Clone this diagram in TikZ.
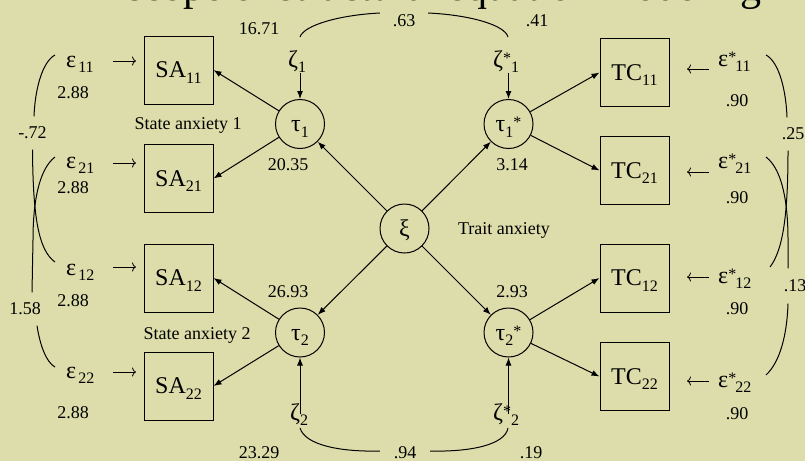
\documentclass[tikz,border=0pt]{standalone}
\usepackage{fontspec}
\setmainfont{Liberation Serif}
\usetikzlibrary{arrows.meta}
\definecolor{slidebg}{RGB}{220,221,170}
% lowered and raised indices in running text
\newcommand{\lowidx}[1]{\raisebox{-5.5pt}{\fontsize{16}{16}\selectfont #1}}
\newcommand{\highidx}[1]{\raisebox{4pt}{\fontsize{16}{16}\selectfont #1}}
\tikzset{
  bigtext/.style={font=\fontsize{24}{26}\selectfont, inner sep=0pt},
  smalltext/.style={font=\fontsize{18}{20}\selectfont, inner sep=0pt},
  manifest/.style={draw, line width=1pt, minimum width=69pt, minimum height=68pt,
    inner sep=0pt, text height=15pt, text depth=0pt, font=\fontsize{24}{26}\selectfont},
  latent/.style={draw, circle, line width=1pt, minimum size=49pt, inner sep=0pt,
    text height=15pt, text depth=0pt, font=\fontsize{24}{26}\selectfont},
  load/.style={line width=1pt, -{Latex[length=8pt,width=6pt]}},
  errarrow/.style={line width=0.8pt, -{To[length=4pt,width=9pt]}},
  covline/.style={line width=1pt},
}
\begin{document}
\begin{tikzpicture}[x=1pt,y=-1pt]
\fill[slidebg] (0,0) rectangle (805,461);
\useasboundingbox (0,0) rectangle (805,461);

% slide heading, cut by the top edge
\begin{scope}
  \clip (0,0) rectangle (805,461);
  \node[anchor=base west, inner sep=0pt, font=\fontsize{42}{44}\selectfont] (title) at (127,0)
    {scope of structural equation modeling};
\end{scope}

% observed indicators
\node[manifest] (sa11) at (178.5,70)  {SA\lowidx{11}};
\node[manifest] (sa21) at (178.5,178.5) {SA\lowidx{21}};
\node[manifest] (sa12) at (178.5,278) {SA\lowidx{12}};
\node[manifest] (sa22) at (178.5,386) {SA\lowidx{22}};
\node[manifest] (tc11) at (634.5,72.5) {TC\lowidx{11}};
\node[manifest] (tc21) at (634.5,170.5) {TC\lowidx{21}};
\node[manifest] (tc12) at (634.5,278) {TC\lowidx{12}};
\node[manifest] (tc22) at (634.5,376.5) {TC\lowidx{22}};

% latent variables
\node[latent] (t1)  at (300,124)     {τ\lowidx{1}};
\node[latent] (ts1) at (508.5,124)   {τ\lowidx{1}\highidx{*}};
\node[latent] (xi)  at (404.5,228.5) {ξ};
\node[latent] (t2)  at (300,332.5)   {τ\lowidx{2}};
\node[latent] (ts2) at (508.5,332.5) {τ\lowidx{2}\highidx{*}};

% disturbances
\node[bigtext, anchor=base west] (z1)  at (288,67)  {ζ\lowidx{1}};
\node[bigtext, anchor=base west] (zs1) at (493,67)  {ζ\highidx{*}\lowidx{1}};
\node[bigtext, anchor=base west] (z2)  at (290,420) {ζ\lowidx{2}};
\node[bigtext, anchor=base west] (zs2) at (493,420) {ζ\highidx{*}\lowidx{2}};

% measurement errors
\node[bigtext, anchor=base west] (e11) at (66,67)  {ε\kern2pt\lowidx{11}};
\node[bigtext, anchor=base west] (e21) at (66,168) {ε\kern2pt\lowidx{21}};
\node[bigtext, anchor=base west] (e12) at (66,275) {ε\kern2pt\lowidx{12}};
\node[bigtext, anchor=base west] (e22) at (66,378) {ε\kern2pt\lowidx{22}};
\node[bigtext, anchor=base west] (es11) at (718,66)  {ε\highidx{*}\kern-1pt\lowidx{11}};
\node[bigtext, anchor=base west] (es21) at (718,168) {ε\highidx{*}\kern-1pt\lowidx{21}};
\node[bigtext, anchor=base west] (es12) at (718,283) {ε\highidx{*}\kern-1pt\lowidx{12}};
\node[bigtext, anchor=base west] (es22) at (718,387) {ε\highidx{*}\kern-1pt\lowidx{22}};

% error variances
\node[smalltext] (v11) at (73,93)  {2.88};
\node[smalltext] (v21) at (73,188) {2.88};
\node[smalltext] (v12) at (73,301) {2.88};
\node[smalltext] (v22) at (73,413) {2.88};
\node[smalltext] (w11) at (737,101) {.90};
\node[smalltext] (w21) at (737,198) {.90};
\node[smalltext] (w12) at (737,309) {.90};
\node[smalltext] (w22) at (737,414) {.90};

% estimates near the latent variables
\node[smalltext] (p1) at (288,165) {20.35};
\node[smalltext] (p2) at (512,165) {3.14};
\node[smalltext] (p3) at (288,292) {26.93};
\node[smalltext] (p4) at (512,292) {2.93};
\node[smalltext] (d1v) at (259,28.5) {16.71};
\node[smalltext] (d2v) at (537,21)   {.41};
\node[smalltext] (d3v) at (259,452.5) {23.29};
\node[smalltext] (d4v) at (531,452.5) {.19};

% captions
\node[smalltext] (cap1) at (188,125.5) {State anxiety 1};
\node[smalltext] (cap2) at (197,335)   {State anxiety 2};
\node[smalltext] (cap3) at (504,230)   {Trait anxiety};

% loadings
\foreach \a/\b in {t1/sa11,t1/sa21,t2/sa12,t2/sa22}
  \draw[load] (\a) -- (\b.east);
\foreach \a/\b in {ts1/tc11,ts1/tc21,ts2/tc12,ts2/tc22}
  \draw[load] (\a) -- (\b.west);
\foreach \b in {t1,ts1,t2,ts2}
  \draw[load] (xi) -- (\b);
\draw[load] (z1.south -| t1.north) -- (t1.north);
\draw[load] (zs1.south -| ts1.north) -- (ts1.north);
\draw[load, shorten <=-11pt] (z2.north -| t2.south) -- (t2.south);
\draw[load, shorten <=-11pt] (zs2.north -| ts2.south) -- (ts2.south);

% error arrows
\draw[errarrow] ([shift={(47,-6)}]e11.base west) -- ([shift={(70,-6)}]e11.base west);
\draw[errarrow] ([shift={(47,-5)}]e21.base west) -- ([shift={(70,-5)}]e21.base west);
\draw[errarrow] ([shift={(47,-8)}]e12.base west) -- ([shift={(70,-8)}]e12.base west);
\draw[errarrow] ([shift={(47,-6)}]e22.base west) -- ([shift={(70,-6)}]e22.base west);
\draw[errarrow] ([shift={(-9,3)}]es11.base west) -- ([shift={(-31,3)}]es11.base west);
\draw[errarrow] ([shift={(-9,4)}]es21.base west) -- ([shift={(-31,4)}]es21.base west);
\draw[errarrow] ([shift={(-9,-6)}]es12.base west) -- ([shift={(-31,-6)}]es12.base west);
\draw[errarrow] ([shift={(-9,-6)}]es22.base west) -- ([shift={(-31,-6)}]es22.base west);

% covariance labels
\node[smalltext, minimum height=33pt] (m72) at (32.5,133) {-.72};
\node[smalltext, minimum height=33pt] (l158) at (25,309) {1.58};
\node[smalltext, minimum height=33pt] (l25) at (793,134) {.25};
\node[smalltext, minimum height=35pt] (l13) at (795,286) {.13};
\node[smalltext, minimum width=48pt] (t63) at (404,21) {.63};
\node[smalltext, minimum width=50pt] (t94) at (405,452.5) {.94};

% ends of the covariance arcs
\coordinate (a11) at (55,55);
\coordinate (a12) at (55,262);
\coordinate (a21) at (55,157);
\coordinate (a22) at (55,367);
\coordinate (b11) at (766,55);
\coordinate (b12) at (770,267);
\coordinate (b21) at (766,157);
\coordinate (b22) at (766,375);
\coordinate (c1) at (300,37);
\coordinate (c2) at (508,37);
\coordinate (g1) at (300,428);
\coordinate (g2) at (508,428);

% covariances, left
\draw[covline] (a11) .. controls (42,62) and (35,90) .. ([xshift=1.5pt]m72.north);
\draw[covline] (m72.south) .. controls (33,215) and (38,250) .. (a12);
\draw[covline] (a21) .. controls (38,170) and (33,205) .. (33,240) -- ([xshift=7pt]l158.north);
\draw[covline] ([xshift=12pt]l158.south) .. controls (40,345) and (46,362) .. (a22);

% covariances, right
\draw[covline] (b11) .. controls (779,62) and (786,90) .. ([xshift=-6pt]l25.north);
\draw[covline] ([xshift=-5pt]l25.south) .. controls (788,215) and (783,250) .. (b12);
\draw[covline] (b21) .. controls (783,170) and (788,205) .. (788,240) -- ([xshift=-7pt]l13.north);
\draw[covline] ([xshift=-7pt]l13.south) .. controls (787,335) and (780,362) .. (b22);

% covariances between disturbances
\draw[covline] (c1) .. controls (304,25) and (340,15) .. ([yshift=8pt]t63.west);
\draw[covline] ([yshift=8pt]t63.east) .. controls (470,15) and (505,25) .. (c2);
\draw[covline] (g1) .. controls (305,445) and (340,452) .. ([yshift=1.5pt]t94.west);
\draw[covline] ([yshift=1.5pt]t94.east) .. controls (470,452) and (505,445) .. (g2);
\end{tikzpicture}
\end{document}
